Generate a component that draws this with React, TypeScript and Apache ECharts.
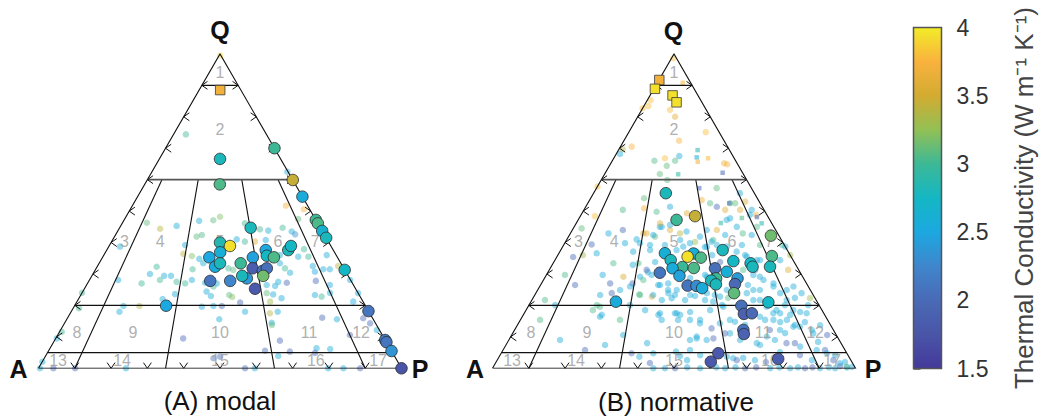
import React, { useEffect, useRef } from "react";
import * as echarts from "echarts";

type T3 = [number, number, number];

// Thermal conductivity colour scale
const cbMin = 1.5;
const cbMax = 4;
const cbTicks = [1.5, 2, 2.5, 3, 3.5, 4];
const cbColors = [
  "#43399a", "#4a55a8", "#4a6ab6", "#3f86cc", "#1ca8e0", "#14b7c4",
  "#3db896", "#92c055", "#d3ab31", "#f9b23e", "#f2ec28",
];

// QAP structure: horizontal Q lines, P/(A+P) ratio lines, ticks
const qLines = [90, 60, 20, 5];
const ratioLines = [10, 35, 65, 90];
const tickValues = [10, 20, 30, 40, 50, 60, 70, 80, 90];
const fieldLabels: [string, number, number][] = [
  ["1", 94, 50], ["2", 75.8, 50], ["3", 40.2, 6], ["4", 40.2, 22.4], ["5", 40.2, 50],
  ["6", 40.2, 76.7], ["7", 40.2, 93.8], ["8", 11.5, 5.5], ["9", 11.5, 22.9],
  ["10", 11.5, 50], ["11", 11.5, 77.7], ["12", 11.5, 93.9], ["13", 2.6, 4.2],
  ["14", 2.6, 22.3], ["15", 2.6, 50], ["16", 2.6, 77.1], ["17", 2.6, 94.7],
];

// [Q %, P %, conductivity]  (A = 100 - Q - P)
const modalMainSquares: T3[] = [[88.5, 5.8, 3.7]];
const modalMain: T3[] = [
  [66.6, 16.7, 2.8], [58.5, 20.7, 3.05], [70.0, 30.0, 3.0], [59.9, 40.1, 3.45],
  [54.6, 45.4, 2.55], [47.2, 52.8, 3.0], [46.1, 53.9, 3.05], [43.7, 56.3, 2.65],
  [41.5, 58.5, 2.8], [31.3, 68.7, 2.75], [18.2, 81.8, 2.1], [9.0, 91.0, 2.15],
  [8.3, 91.7, 2.1], [5.5, 94.5, 2.35], [0, 100, 1.75], [19.9, 25.2, 2.5],
  [44.7, 36.1, 2.8], [40.0, 30.0, 2.85], [36.9, 31.6, 2.6], [35.3, 29.4, 2.5],
  [32.3, 32.5, 2.55], [33.4, 33.3, 2.8], [27.8, 33.4, 2.1], [27.8, 38.9, 2.25],
  [33.4, 39.0, 3.0], [28.6, 43.1, 2.4], [29.4, 41.4, 2.8], [35.3, 41.4, 2.45],
  [31.8, 43.1, 1.85], [25.3, 47.0, 1.8], [31.0, 46.3, 2.1], [31.8, 47.0, 2.05],
  [29.4, 47.2, 3.15], [37.6, 43.8, 2.5], [35.8, 45.0, 2.75], [35.3, 47.2, 3.05],
  [37.6, 50.0, 2.8], [38.9, 50.1, 2.75], [38.9, 33.3, 3.95],
];
const modalBackground: T3[] = [
  [99.5, 0.3, 3.9], [74.4, 3.4, 3.0], [62.5, 37.3, 2.5], [51.7, 42.3, 3.7], [50.6, 47.8, 3.7],
  [47.5, 47.8, 3.1], [46.3, 6.7, 3.1], [44.4, 11.3, 3.4], [45.3, 15.4, 2.55], [46.9, 20.8, 2.6],
  [47.1, 24.6, 3.1], [48.2, 25.9, 3.2], [46.1, 33.8, 3.0], [44.2, 38.9, 3.0], [43.8, 41.4, 2.6],
  [44.7, 44.9, 3.0], [43.5, 48.0, 2.6], [42.6, 49.4, 2.3], [41.9, 22.6, 3.1], [42.4, 23.8, 3.05],
  [41.0, 34.1, 2.5], [40.3, 36.7, 3.0], [40.8, 42.2, 2.5], [40.3, 39.5, 3.6], [39.2, 20.8, 2.6],
  [36.4, 21.7, 3.4], [35.7, 24.4, 3.2], [34.8, 26.9, 2.6], [31.5, 26.7, 3.0], [33.4, 28.7, 2.6],
  [31.8, 36.4, 3.0], [31.3, 38.0, 3.1], [36.0, 48.5, 2.6], [33.4, 49.8, 2.55], [31.8, 52.0, 3.0],
  [30.4, 54.1, 2.6], [37.9, 54.2, 3.0], [35.5, 53.8, 2.55], [35.5, 56.6, 3.0], [36.0, 61.4, 2.55],
  [32.5, 59.3, 2.55], [31.5, 62.7, 2.55], [31.5, 64.5, 2.5], [30.7, 60.8, 2.5], [27.8, 62.5, 2.0],
  [26.5, 67.0, 2.5], [23.3, 64.5, 2.55], [22.8, 66.6, 3.0], [24.0, 68.3, 2.55], [32.5, 66.3, 3.4],
  [28.1, 71.8, 2.55], [23.9, 76.1, 2.55], [21.2, 76.1, 2.5], [15.9, 81.5, 2.0], [14.3, 84.2, 2.0],
  [12.2, 87.1, 2.55], [10.6, 80.5, 2.0], [16.1, 70.1, 2.0], [15.6, 74.4, 2.55], [6.1, 77.3, 2.55],
  [6.4, 73.4, 2.55], [4.9, 73.7, 2.0], [5.3, 66.6, 2.0], [8.8, 62.1, 2.0], [3.9, 64.1, 2.55],
  [5.6, 59.6, 2.0], [14.5, 57.0, 2.55], [13.8, 57.4, 3.1], [18.0, 56.9, 2.55], [17.5, 55.0, 3.4],
  [21.2, 53.2, 3.3], [23.9, 50.9, 3.1], [23.5, 52.9, 2.55], [22.3, 55.8, 2.55], [26.2, 52.1, 2.55],
  [27.5, 52.3, 2.55], [27.2, 54.8, 2.0], [26.5, 49.6, 2.55], [20.9, 45.1, 2.0], [18.0, 47.9, 2.55],
  [15.6, 42.0, 2.55], [19.6, 35.2, 2.55], [19.8, 38.3, 2.55], [19.8, 40.6, 2.0], [23.3, 40.9, 3.1],
  [22.7, 42.0, 3.2], [23.0, 36.0, 2.55], [24.4, 34.1, 2.55], [26.0, 35.2, 3.0], [27.0, 35.6, 2.55],
  [27.2, 32.3, 2.55], [28.1, 28.2, 2.55], [27.0, 26.9, 3.0], [27.5, 24.3, 3.0], [23.6, 25.8, 2.55],
  [9.5, 35.1, 2.0], [29.4, 19.9, 2.55], [29.4, 21.8, 2.55], [32.3, 16.4, 3.0], [30.0, 15.7, 2.55],
  [27.0, 14.9, 3.0], [28.1, 19.4, 3.0], [28.1, 7.9, 2.55], [38.7, 3.1, 2.55], [22.0, 23.2, 2.55],
  [19.8, 17.9, 3.4], [19.8, 13.5, 2.55], [18.0, 13.3, 2.55], [24.0, 0, 3.0], [19.1, 1.6, 3.0],
  [11.6, 0.6, 3.0], [9.5, 0.3, 2.55], [2.1, 0, 2.55], [0, 0.4, 2.55], [0, 4.1, 2.0],
  [0, 10.1, 2.0], [0, 24.1, 2.55], [3.2, 46.6, 2.0], [3.7, 48.2, 2.0], [0, 56.9, 2.0],
  [0, 59.6, 2.55], [0, 79.8, 2.55], [0, 84.0, 2.55], [0, 88.6, 2.0],
];

const normMainSquares: T3[] = [
  [91.7, 0.1, 3.7], [88.9, 0.3, 3.95], [86.8, 6.2, 3.95], [84.6, 8.4, 3.95],
];
const normMain: T3[] = [
  [55.7, 19.9, 2.8], [47.2, 27.1, 3.0], [48.4, 31.6, 3.45], [42.2, 55.6, 3.15],
  [35.7, 59.1, 3.05], [32.3, 60.3, 2.8], [37.6, 44.6, 2.8], [34.1, 49.3, 2.75],
  [33.4, 54.4, 2.75], [32.3, 55.5, 2.8], [36.6, 29.2, 2.6], [34.4, 31.9, 2.8],
  [36.5, 37.1, 2.6], [35.2, 39.8, 3.05], [32.2, 36.2, 3.0], [31.9, 39.5, 3.05],
  [31.8, 33.7, 2.55], [30.4, 30.9, 2.1], [29.4, 36.8, 2.45], [26.3, 40.6, 2.1],
  [26.2, 43.1, 2.3], [25.5, 45.0, 2.55], [31.8, 45.4, 2.05], [28.6, 47.3, 3.0],
  [27.9, 46.3, 2.8], [26.7, 48.2, 2.8], [30.7, 49.2, 2.6], [28.6, 53.2, 2.4],
  [26.8, 53.4, 2.0], [23.9, 54.6, 3.1], [21.0, 65.5, 2.75], [21.2, 23.4, 2.55],
  [19.9, 58.6, 2.05], [17.3, 60.6, 1.9], [17.5, 62.7, 2.0], [12.2, 63.0, 2.1],
  [10.9, 63.8, 1.9], [4.8, 59.8, 1.8], [2.1, 59.1, 1.8], [3.0, 77.2, 1.85],
  [35.5, 36.0, 3.95],
];
const normBackgroundSquares: T3[] = [
  [90.8, 7.0, 3.8], [69.4, 21.8, 2.85], [67.1, 22.7, 2.55], [66.8, 26.0, 3.8],
  [65.7, 23.7, 3.7], [61.7, 20.3, 2.9], [62.2, 32.3, 2.0], [57.3, 28.3, 2.0],
  [46.1, 51.1, 2.85], [46.2, 39.8, 2.9], [47.8, 44.8, 3.05], [48.1, 48.8, 2.0],
  [52.5, 39.0, 2.0],
];
const normBackground: T3[] = [
  [98.6, 0.5, 3.8], [85.3, 0.9, 3.8], [82.7, 0, 3.8], [83.4, 1.2, 3.8], [82.2, 7.8, 3.8],
  [80.0, 10.3, 3.6], [75.1, 21.2, 3.8], [72.4, 15.2, 3.75], [70.5, 3.1, 3.75], [69.7, 1.0, 3.4],
  [68.2, 1.0, 2.55], [67.5, 17.7, 2.55], [66.0, 17.3, 3.05], [66.8, 14.1, 3.8], [66.0, 11.6, 3.05],
  [64.4, 15.8, 3.1], [61.8, 15.2, 3.1], [65.2, 31.2, 3.7], [64.9, 32.2, 3.7], [57.8, 0, 3.8],
  [59.9, 18.2, 3.1], [55.7, 40.3, 2.55], [57.3, 33.1, 3.1], [54.1, 14.7, 3.1], [50.9, 16.3, 3.7],
  [50.4, 10.7, 3.05], [48.4, 4.0, 3.8], [44.5, 2.3, 3.1], [39.4, 7.6, 2.0], [44.0, 13.9, 2.0],
  [42.9, 10.5, 2.55], [39.8, 16.6, 2.55], [41.0, 19.2, 2.55], [42.9, 20.1, 3.6], [41.9, 23.8, 3.1],
  [45.0, 24.1, 2.55], [44.0, 26.9, 3.6], [43.5, 31.7, 2.55], [53.5, 30.9, 3.7], [52.5, 33.7, 3.05],
  [51.4, 36.1, 2.0], [50.4, 38.9, 3.6], [52.5, 40.6, 3.1], [53.0, 43.1, 3.6], [50.4, 46.2, 2.55],
  [48.8, 48.2, 3.7], [47.7, 41.6, 2.55], [45.0, 44.8, 2.55], [42.9, 47.5, 3.05], [42.4, 50.2, 2.55],
  [42.4, 42.9, 2.55], [40.8, 40.4, 3.05], [44.0, 37.0, 2.55], [44.0, 39.8, 3.6], [31.3, 65.8, 3.6],
  [26.0, 69.9, 2.55], [23.9, 73.2, 2.55], [22.3, 76.3, 3.3], [24.9, 68.6, 2.55], [27.0, 63.9, 2.55],
  [29.1, 59.1, 2.55], [24.9, 59.4, 2.55], [21.7, 62.8, 2.55], [18.5, 69.0, 2.55], [20.1, 70.5, 2.55],
  [17.0, 73.5, 2.55], [17.9, 75.8, 2.55], [13.8, 76.4, 2.55], [14.7, 78.7, 2.5], [12.2, 81.9, 2.55],
  [11.2, 75.0, 2.55], [9.0, 73.3, 2.55], [8.0, 79.3, 2.0], [8.4, 85.5, 2.55], [5.8, 88.7, 2.0],
  [4.2, 92.3, 2.55], [2.0, 96.1, 2.55], [0.7, 95.4, 2.0], [0.4, 98.8, 2.55], [15.4, 67.4, 2.55],
  [12.2, 70.3, 2.0], [7.4, 70.0, 2.55], [5.2, 76.6, 2.55], [4.2, 82.6, 2.0], [2.6, 86.7, 2.55],
  [13.7, 83.4, 2.55], [10.6, 86.9, 2.0], [20.1, 76.9, 2.55], [22.4, 72.1, 2.55], [14.7, 71.9, 2.55],
  [13.8, 62.7, 2.55], [14.8, 59.4, 2.55], [11.1, 58.5, 2.0], [3.2, 64.7, 2.55], [3.3, 67.4, 2.55],
  [2.6, 71.0, 2.55], [2.0, 74.3, 2.0], [12.7, 54.0, 2.0], [9.5, 56.1, 2.0], [10.1, 51.2, 2.55],
  [9.0, 49.9, 2.55], [8.0, 38.6, 2.55], [5.3, 47.9, 2.55], [3.9, 49.7, 2.55], [2.6, 52.3, 2.55],
  [0, 44.3, 2.55], [1.7, 42.5, 2.0], [3.7, 38.6, 2.55], [4.8, 35.9, 2.0], [4.8, 41.9, 2.55],
  [0, 47.5, 2.55], [0, 50.3, 2.0], [0, 57.2, 2.55], [0, 64.1, 2.55], [0, 69.6, 2.0],
  [0, 76.5, 2.55], [0, 82.0, 2.55], [0, 86.1, 2.0], [0, 90.2, 2.55], [0, 94.4, 2.55],
  [29.7, 15.5, 2.55], [23.3, 18.0, 2.55], [23.9, 20.9, 2.0], [33.4, 16.6, 3.05], [32.9, 22.2, 2.55],
  [27.0, 25.1, 2.0], [29.1, 26.1, 2.55], [23.5, 28.7, 3.05], [22.8, 32.5, 3.6], [20.1, 18.7, 3.05],
  [17.0, 21.6, 2.55], [18.5, 18.4, 3.05], [17.0, 37.2, 2.55], [15.4, 38.9, 2.55], [17.5, 41.5, 2.55],
  [17.0, 43.2, 2.55], [15.4, 43.4, 2.55], [37.6, 24.6, 2.55], [33.8, 27.9, 2.6], [30.6, 27.5, 2.55],
  [26.5, 32.9, 2.55], [24.9, 35.9, 2.55], [23.3, 38.6, 2.55], [21.7, 42.2, 2.55], [23.0, 44.3, 2.55],
  [21.7, 47.7, 2.55], [23.3, 49.6, 2.55], [20.1, 53.2, 2.55], [22.4, 53.7, 3.05], [18.5, 50.7, 2.55],
  [15.4, 49.5, 2.55], [17.9, 45.5, 2.55], [39.2, 27.9, 2.55], [40.8, 31.3, 2.55], [40.2, 35.7, 3.3],
  [38.6, 39.2, 2.55], [36.0, 42.5, 2.55], [33.8, 45.8, 2.0], [29.7, 43.7, 2.55], [28.7, 40.1, 2.55],
  [39.2, 49.1, 2.55], [39.2, 54.1, 3.05], [36.0, 51.6, 2.55], [34.4, 56.5, 2.55], [26.5, 57.1, 2.55],
  [31.3, 56.7, 2.0], [34.4, 62.0, 2.55], [39.2, 60.2, 3.05], [36.0, 64.0, 3.3], [20.1, 27.8, 2.55],
  [18.5, 32.8, 2.55], [15.4, 27.4, 3.05], [10.6, 30.7, 2.55], [7.4, 27.3, 2.55], [5.8, 22.6, 2.0],
  [9.0, 14.1, 2.55], [15.4, 5.4, 3.05], [21.7, 3.6, 3.05], [20.1, 7.2, 2.55], [26.5, 9.5, 2.0],
  [29.7, 5.1, 3.05], [35.4, 4.5, 2.0], [36.0, 6.9, 3.3],
  [45.0, 23.6, 2.55], [45.6, 26.1, 2.55], [42.9, 30.2, 3.4], [42.4, 23.1, 2.55], [42.9, 21.0, 3.6],
  [39.8, 20.7, 2.55], [39.2, 23.8, 2.55], [37.1, 20.2, 2.55], [33.4, 23.5, 3.05], [31.3, 26.8, 2.0],
  [29.7, 29.0, 2.55], [28.1, 27.5, 3.05], [26.5, 32.4, 2.55], [27.0, 34.9, 2.55], [24.9, 38.3, 2.55],
  [23.9, 36.5, 2.55], [23.3, 32.6, 2.55], [23.3, 29.0, 3.05], [21.7, 35.8, 2.55], [22.3, 38.2, 2.55],
  [23.3, 42.8, 2.55], [23.9, 47.1, 2.55], [21.2, 50.2, 2.55], [22.8, 51.3, 2.55], [24.9, 52.1, 2.55],
  [29.1, 44.5, 2.55], [37.1, 37.7, 2.55], [38.7, 39.7, 2.55], [40.3, 40.2, 2.55], [39.2, 42.2, 2.55],
  [41.9, 36.2, 2.55], [39.8, 34.5, 2.55], [38.7, 33.2, 2.55], [37.6, 31.9, 2.55], [38.7, 45.2, 2.55],
  [37.1, 48.7, 2.55], [35.5, 52.3, 2.55], [34.4, 55.6, 2.55], [31.3, 53.4, 3.05], [29.7, 57.0, 2.55],
  [28.1, 60.6, 2.55], [26.0, 64.4, 2.55], [23.9, 67.3, 2.55], [21.7, 70.2, 2.55], [24.9, 61.2, 2.55],
  [23.9, 58.1, 2.55], [21.7, 61.0, 2.55], [19.6, 65.7, 2.55], [17.5, 70.5, 2.55], [15.4, 73.4, 2.55],
  [13.2, 76.3, 2.55], [15.4, 69.7, 2.55], [16.4, 65.5, 2.55], [19.6, 53.8, 2.55], [15.4, 57.7, 2.55],
  [14.3, 55.5, 2.55], [36.6, 10.4, 2.55], [29.1, 21.5, 3.5], [26.0, 24.9, 2.55], [24.9, 22.7, 2.55],
  [27.0, 18.9, 2.0], [19.6, 19.8, 3.05], [16.4, 21.4, 2.55], [17.5, 37.4, 2.55], [17.5, 42.0, 2.55],
  [15.4, 46.7, 2.55], [14.3, 50.0, 2.55], [46.1, 23.1, 3.6], [49.8, 20.3, 3.05], [51.4, 23.2, 2.55],
  [49.3, 28.9, 3.6], [52.5, 39.2, 3.05], [50.4, 43.0, 3.6], [48.8, 46.5, 2.55], [47.2, 40.9, 2.55],
  [45.0, 50.3, 3.05], [38.7, 61.3, 2.55], [17.5, 68.6, 2.55], [13.2, 78.1, 2.55], [11.1, 82.8, 2.55],
  [17.5, 77.8, 2.55], [18.5, 73.6, 2.5], [12.2, 73.1, 2.55], [10.1, 70.5, 2.55], [8.0, 68.8, 2.55],
  [8.0, 77.0, 2.0], [6.9, 81.3, 2.55], [5.8, 86.4, 2.55], [2.6, 92.6, 2.0], [4.8, 89.7, 2.55],
  [1.6, 94.9, 2.55], [0.5, 97.3, 3.3], [9.5, 51.5, 2.55], [9.0, 54.5, 2.55], [5.8, 51.5, 2.55],
  [4.2, 55.1, 2.55], [11.1, 59.9, 2.55], [9.0, 63.7, 2.55], [3.7, 62.7, 2.55], [2.6, 66.0, 2.0],
  [0.3, 53.5, 2.55], [0.3, 61.5, 2.55], [0.3, 66.8, 2.55], [0.3, 72.5, 2.0], [0.3, 78.9, 2.55],
  [0.3, 84.0, 2.55], [0.3, 88.0, 2.0], [0.3, 92.5, 2.55], [0.3, 97.5, 2.55],
];

const SQ3 = Math.sqrt(3) / 2;
const tern = (q: number, p: number): number[] => [p + q / 2, q * SQ3];
const toPts = (arr: T3[]) => arr.map(([q, p, k]) => [...tern(q, p), k]);

const FONT = "Liberation Sans, Arial, Helvetica, sans-serif";

function structureLines() {
  const segs: number[][][] = [];
  segs.push([tern(0, 0), tern(0, 100), tern(100, 0), tern(0, 0)]);
  qLines.forEach((q) => {
    if (q !== 60) segs.push([tern(q, 0), tern(q, 100 - q)]);
  });
  ratioLines.forEach((r) => {
    segs.push([tern(60, (r / 100) * 40), tern(0, r)]);
  });
  return segs;
}

function tickMarks() {
  const L = 1.9;
  const ca = Math.cos((35 * Math.PI) / 180);
  const sa = Math.sin((35 * Math.PI) / 180);
  const out: number[][][] = [];
  tickValues.forEach((t) => {
    const l = tern(t, 0);
    out.push([[l[0] + L * ca, l[1] + L * sa], l, [l[0] + L * ca, l[1] - L * sa]]);
    const b = tern(0, t);
    out.push([[b[0] - L * sa, L * ca], b, [b[0] + L * sa, L * ca]]);
    const r = tern(t, 100 - t);
    out.push([[r[0] - L * ca, r[1] + L * sa], r, [r[0] - L * ca, r[1] - L * sa]]);
  });
  return out;
}

export default function App() {
  const ref = useRef<HTMLDivElement>(null);
  useEffect(() => {
    if (!ref.current) return;
    const chart = echarts.init(ref.current, undefined, { renderer: "svg" });
    const series: any[] = [];
    const vmIdx: number[] = [];
    const panels = [
      { bg: modalBackground, bgSq: [] as T3[], main: modalMain, mainSq: modalMainSquares },
      { bg: normBackground, bgSq: normBackgroundSquares, main: normMain, mainSq: normMainSquares },
    ];
    panels.forEach((pn, gi) => {
      const ax = { xAxisIndex: gi, yAxisIndex: gi };
      vmIdx.push(series.length);
      series.push({
        type: "scatter", ...ax, clip: false, symbolSize: 6.5, silent: true,
        itemStyle: { opacity: 0.45 }, data: toPts(pn.bg), z: 2,
      });
      vmIdx.push(series.length);
      series.push({
        type: "scatter", ...ax, clip: false, symbol: "rect", symbolSize: 4.5, silent: true,
        itemStyle: { opacity: 0.55 }, data: toPts(pn.bgSq), z: 2,
      });
      series.push({
        type: "lines", coordinateSystem: "cartesian2d", ...ax, polyline: true, silent: true,
        lineStyle: { color: "#111", width: 1.1, opacity: 1 },
        data: structureLines().map((c) => ({ coords: c })), z: 3,
      });
      series.push({
        type: "lines", coordinateSystem: "cartesian2d", ...ax, polyline: true, silent: true,
        lineStyle: { color: "#555", width: 1.8, opacity: 1 },
        data: [{ coords: [tern(60, 0), tern(60, 40)] }], z: 3,
      });
      series.push({
        type: "lines", coordinateSystem: "cartesian2d", ...ax, polyline: true, silent: true,
        lineStyle: { color: "#111", width: 1, opacity: 1 },
        data: tickMarks().map((c) => ({ coords: c })), z: 3,
      });
      series.push({
        type: "scatter", ...ax, clip: false, symbolSize: 0.1, silent: true,
        itemStyle: { color: "rgba(0,0,0,0)" },
        label: {
          show: true, position: "inside", formatter: "{b}", color: "#9a9a9a",
          fontSize: 16, fontFamily: FONT,
        },
        data: fieldLabels.map(([n, q, r]) => ({ name: n, value: tern(q, (r / 100) * (100 - q)) })),
        z: 4,
      });
      vmIdx.push(series.length);
      series.push({
        type: "scatter", ...ax, clip: false, symbol: "rect", symbolSize: 9.5, silent: true,
        itemStyle: { borderColor: "#3a3a3a", borderWidth: 0.8, opacity: 1 },
        data: toPts(pn.mainSq), z: 5,
      });
      vmIdx.push(series.length);
      series.push({
        type: "scatter", ...ax, clip: false, symbolSize: 11.5, silent: true,
        itemStyle: { borderColor: "#2a2a2a", borderWidth: 0.8, opacity: 1 },
        data: toPts(pn.main), z: 5,
      });
    });
    const stops = cbColors.map((c, i) => ({ offset: i / (cbColors.length - 1), color: c }));
    series.push({
      type: "custom", xAxisIndex: 2, yAxisIndex: 2, silent: true,
      data: [[0, cbMin, 1, cbMax]],
      encode: { x: [0, 2], y: [1, 3] },
      renderItem: (_p: any, api: any) => {
        const a = api.coord([api.value(0), api.value(3)]);
        const b = api.coord([api.value(2), api.value(1)]);
        return {
          type: "rect",
          shape: { x: a[0], y: a[1], width: b[0] - a[0], height: b[1] - a[1] },
          style: {
            fill: new echarts.graphic.LinearGradient(0, 1, 0, 0, stops),
            stroke: "#555", lineWidth: 1.5,
          },
        };
      },
    });
    const tri = { width: 363, height: 314.4, top: 53.9 };
    const hiddenX = { type: "value", min: 0, max: 100, show: false };
    const hiddenY = { type: "value", min: 0, max: 86.6025, show: false };
    const txt = (text: string, x: number, y: number, size: number, bold: boolean) => ({
      type: "text", x, y, silent: true,
      style: {
        text, fontSize: size, fontWeight: bold ? "bold" : "normal", fontFamily: FONT,
        fill: "#111", align: "center", verticalAlign: "middle",
      },
    });
    chart.setOption({
      animation: false,
      grid: [
        { left: 38.5, ...tri },
        { left: 492.5, ...tri },
        { left: 913.5, top: 27.5, width: 28, height: 341 },
      ],
      xAxis: [hiddenX, { ...hiddenX, gridIndex: 1 }, { type: "value", gridIndex: 2, min: 0, max: 1, show: false }],
      yAxis: [
        hiddenY,
        { ...hiddenY, gridIndex: 1 },
        {
          type: "value", gridIndex: 2, min: cbMin, max: cbMax, interval: 0.5, position: "right",
          axisLine: { show: false },
          axisTick: { show: true, length: 7, lineStyle: { color: "#555", width: 1.5 } },
          splitLine: { show: false },
          axisLabel: {
            color: "#333", fontSize: 23, fontFamily: FONT, margin: 15,
            formatter: (v: number) => (cbTicks.includes(v) ? String(v) : ""),
          },
          name: "Thermal Conductivity (W m\u207B\u00B9 K\u207B\u00B9)",
          nameLocation: "middle", nameRotate: 90, nameGap: 69,
          nameTextStyle: { color: "#444", fontSize: 26, fontFamily: FONT },
        },
      ],
      visualMap: {
        type: "continuous", show: false, min: cbMin, max: cbMax, dimension: 2,
        seriesIndex: vmIdx, inRange: { color: cbColors },
      },
      graphic: [
        txt("Q", 220, 30, 25, true), txt("A", 18.5, 369, 25, true), txt("P", 420, 369, 25, true),
        txt("Q", 673.5, 31, 25, true), txt("A", 475, 369, 25, true), txt("P", 873, 369, 25, true),
        txt("(A) modal", 220, 401, 26, false), txt("(B) normative", 676, 402, 26, false),
      ],
      series,
    });
    return () => chart.dispose();
  }, []);
  return (
    <div
      ref={ref}
      style={{ position: "absolute", left: 0, top: 0, width: 1041, height: 416 }}
    />
  );
}
